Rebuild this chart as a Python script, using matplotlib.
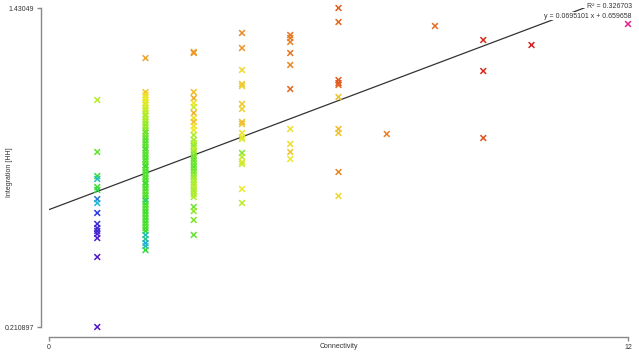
import matplotlib
matplotlib.use("Agg")
import matplotlib.pyplot as plt
from matplotlib.colors import LinearSegmentedColormap

plt.rcParams['font.family'] = ['Liberation Sans', 'DejaVu Sans']

# ---- data: (connectivity, integration, colour value) ----
x1 = [1]*16
y1 = [1.079, 0.880, 0.788, 0.777, 0.746, 0.735, 0.700, 0.685, 0.647, 0.605,
      0.589, 0.578, 0.567, 0.551, 0.4785, 0.210897]
c1 = [0.47, 0.37, 0.31, 0.22, 0.33, 0.30, 0.15, 0.20, 0.10, 0.07,
      0.05, 0.06, 0.04, 0.03, 0.02, 0.01]

y2 = [1.239, 1.109, 1.098, 1.090, 1.079, 1.067, 1.060, 1.048, 1.037, 1.025,
      1.018, 1.006, 0.995, 0.983, 0.972, 0.960, 0.953, 0.941, 0.930, 0.918,
      0.907, 0.895, 0.888, 0.876, 0.865, 0.853, 0.842, 0.830, 0.823, 0.811,
      0.800, 0.788, 0.777, 0.765, 0.758, 0.746, 0.735, 0.723, 0.712, 0.700,
      0.693, 0.681, 0.670, 0.658, 0.647, 0.635, 0.624, 0.612, 0.601, 0.589,
      0.578, 0.563, 0.547, 0.532, 0.520, 0.505]
c2 = [0.68, 0.62, 0.57, 0.55, 0.54, 0.52, 0.53, 0.50, 0.49, 0.47,
      0.46, 0.45, 0.44, 0.42, 0.43, 0.40, 0.38, 0.39, 0.36, 0.35,
      0.37, 0.35, 0.34, 0.36, 0.35, 0.34, 0.36, 0.35, 0.33, 0.35,
      0.34, 0.36, 0.35, 0.34, 0.33, 0.35, 0.34, 0.36, 0.35, 0.34,
      0.28, 0.33, 0.35, 0.34, 0.33, 0.35, 0.34, 0.33, 0.35, 0.34,
      0.33, 0.22, 0.25, 0.19, 0.22, 0.31]
x2 = [2]*len(y2)

y3 = [1.2623, 1.2584, 1.109, 1.086, 1.067, 1.052, 1.029, 1.010, 0.995, 0.979,
      0.964, 0.945, 0.926, 0.914, 0.903, 0.891, 0.880, 0.868, 0.857, 0.846,
      0.834, 0.823, 0.811, 0.800, 0.788, 0.777, 0.765, 0.754, 0.742, 0.731,
      0.719, 0.708, 0.670, 0.654, 0.620, 0.563]
c3 = [0.70, 0.71, 0.63, 0.67, 0.55, 0.50, 0.66, 0.56, 0.64, 0.56,
      0.55, 0.45, 0.44, 0.46, 0.42, 0.47, 0.43, 0.40, 0.38, 0.37,
      0.39, 0.36, 0.38, 0.40, 0.42, 0.44, 0.46, 0.45, 0.47, 0.44,
      0.46, 0.45, 0.38, 0.42, 0.40, 0.37]
x3 = [3]*len(y3)

y4 = [1.3349, 1.2775, 1.1935, 1.1399, 1.1323, 1.0635, 1.0444, 0.9946, 0.9870,
      0.9526, 0.9373, 0.9297, 0.8761, 0.8608, 0.8417, 0.8341, 0.7385, 0.685]
c4 = [0.74, 0.72, 0.58, 0.62, 0.60, 0.62, 0.60, 0.64, 0.62,
      0.56, 0.55, 0.52, 0.40, 0.48, 0.52, 0.50, 0.55, 0.48]
x4 = [4]*len(y4)

y5 = [1.3273, 1.3158, 1.3005, 1.2584, 1.2126, 1.1208, 0.9679, 0.9105, 0.880, 0.8532]
c5 = [0.78, 0.76, 0.75, 0.78, 0.74, 0.80, 0.56, 0.57, 0.62, 0.55]
x5 = [5]*len(y5)

y6 = [1.43049, 1.3769, 1.1552, 1.1437, 1.1361, 1.0902, 0.9679, 0.9526, 0.8035, 0.7117]
c6 = [0.82, 0.80, 0.82, 0.84, 0.80, 0.62, 0.64, 0.62, 0.74, 0.58]
x6 = [6]*len(y6)

x_hi = [7, 8, 9, 9, 9, 10, 12]
y_hi = [0.9488, 1.3617, 1.3082, 1.1896, 0.9335, 1.2890, 1.3693]
c_hi = [0.76, 0.80, 0.90, 0.90, 0.84, 0.92, 1.00]

xs = x1 + x2 + x3 + x4 + x5 + x6 + x_hi
ys = y1 + y2 + y3 + y4 + y5 + y6 + y_hi
cs = c1 + c2 + c3 + c4 + c5 + c6 + c_hi

slope = 0.0695101
intercept = 0.659658
r2 = 0.326703
ymin, ymax = 0.210897, 1.43049
xmin, xmax = 0, 12

cmap = LinearSegmentedColormap.from_list("rainbowish", [
    (0.00, "#5a10c8"), (0.10, "#2838e0"), (0.20, "#20b8d8"),
    (0.32, "#38dc30"), (0.45, "#a8ec28"), (0.55, "#ece828"),
    (0.65, "#f0b428"), (0.75, "#e88424"), (0.85, "#e04c1c"),
    (0.92, "#d81c1c"), (1.00, "#e0208a")])

W, H = 639, 356
fig = plt.figure(figsize=(W/100, H/100), dpi=100)
ax = fig.add_axes([49/W, (H-327)/H, (628-49)/W, (327-8)/H])
ax.set_xlim(xmin, xmax)
ax.set_ylim(ymin, ymax)

# regression line
x_end = (ymax - intercept) / slope
ax.plot([xmin, x_end], [intercept + slope*xmin, intercept + slope*x_end],
        color="#333333", lw=0.9, zorder=2)

ax.scatter(xs, ys, c=cs, cmap=cmap, vmin=0, vmax=1, marker='x',
           s=17, linewidths=1.1, clip_on=False, zorder=3)

for s in ['top', 'right']:
    ax.spines[s].set_visible(False)
ax.spines['left'].set_position(('outward', 5.8))
ax.spines['bottom'].set_position(('outward', 7.2))
for s in ['left', 'bottom']:
    ax.spines[s].set_color("#888888")
    ax.spines[s].set_linewidth(1.0)
ax.spines['left'].set_bounds(ymin, ymax)
ax.spines['bottom'].set_bounds(xmin, xmax)

ax.set_xticks([xmin, xmax])
ax.set_xticklabels(["0", "12"])
ax.set_yticks([ymin, ymax])
ax.set_yticklabels(["0.210897", "1.43049"])
ax.tick_params(axis='both', colors="#888888", labelcolor="#333333",
               labelsize=5, length=3, width=1.0, pad=2)

fig.text(338.5/W, 1-347/H, "Connectivity", ha='center', va='center',
         fontsize=5, color="#333333")
fig.text(10/W, 1-172/H, "Integration [HH]", ha='center', va='center',
         rotation=90, fontsize=5, color="#333333")

fig.text(632/W, 1-7/H, "R\u00b2 = %g" % r2, ha='right', va='center',
         fontsize=5, color="#333333",
         bbox=dict(facecolor='white', edgecolor='none', pad=0.3))
fig.text(632/W, 1-16/H, "y = %s x + %s" % ("0.0695101", "0.659658"),
         ha='right', va='center', fontsize=5, color="#333333",
         bbox=dict(facecolor='white', edgecolor='none', pad=0.3))

fig.savefig("out.png", dpi=100)
